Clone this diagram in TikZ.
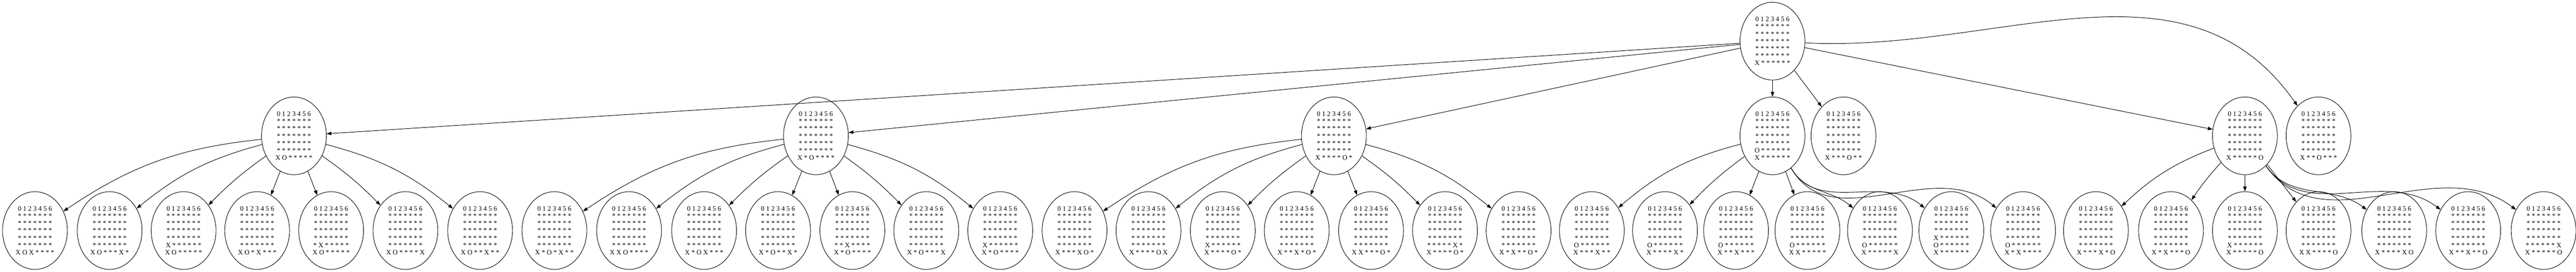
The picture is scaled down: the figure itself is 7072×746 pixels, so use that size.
\documentclass[tikz,border=0pt]{standalone}
\usepackage{fontspec}
\setmainfont{Liberation Serif}
\usetikzlibrary{arrows.meta,shapes.geometric}

% empty row and a board with its three lowest rows given
\newcommand{\erow}{* * * * * * *}
\newcommand{\cfboard}[3]{0 1 2 3 4 5 6\\\erow\\\erow\\\erow\\{}#1\\{}#2\\{}#3}

\tikzset{
    boardnode/.style={draw, ellipse, line width=1pt, minimum width=133.5pt,
        minimum height=160pt, inner sep=0pt, align=center,
        font=\fontsize{14}{15}\selectfont},
    link/.style={line width=1pt, -{Triangle[length=10pt,width=7pt]}}
}

\begin{document}
\begin{tikzpicture}[x=0.75pt, y=0.75pt]

    \useasboundingbox (0,0) rectangle (7072,746);

    %% Start position
    \node[boardnode] (root) at (4866,633) {\cfboard{\erow}{\erow}{X * * * * * *}};

    %% Replies of O
    \node[boardnode] (o1) at (807,373) {\cfboard{\erow}{\erow}{X O * * * * *}};
    \node[boardnode] (o2) at (2240,373) {\cfboard{\erow}{\erow}{X * O * * * *}};
    \node[boardnode] (o5) at (3662,373) {\cfboard{\erow}{\erow}{X * * * * O *}};
    \node[boardnode] (o0) at (4866,373) {\cfboard{\erow}{O * * * * * *}{X * * * * * *}};
    \node[boardnode] (o4) at (5061,373) {\cfboard{\erow}{\erow}{X * * * O * *}};
    \node[boardnode] (o6) at (6163,373) {\cfboard{\erow}{\erow}{X * * * * * O}};
    \node[boardnode] (o3) at (6365,373) {\cfboard{\erow}{\erow}{X * * O * * *}};

    %% Second moves of X
    % after O in column 1
    \node[boardnode] (o1x2) at (96,113) {\cfboard{\erow}{\erow}{X O X * * * *}};
    \node[boardnode] (o1x5) at (301,113) {\cfboard{\erow}{\erow}{X O * * * X *}};
    \node[boardnode] (o1x0) at (504,113) {\cfboard{\erow}{X * * * * * *}{X O * * * * *}};
    \node[boardnode] (o1x3) at (706,113) {\cfboard{\erow}{\erow}{X O * X * * *}};
    \node[boardnode] (o1x1) at (909,113) {\cfboard{\erow}{* X * * * * *}{X O * * * * *}};
    \node[boardnode] (o1x6) at (1113,113) {\cfboard{\erow}{\erow}{X O * * * * X}};
    \node[boardnode] (o1x4) at (1318,113) {\cfboard{\erow}{\erow}{X O * * X * *}};

    % after O in column 2
    \node[boardnode] (o2x4) at (1522,113) {\cfboard{\erow}{\erow}{X * O * X * *}};
    \node[boardnode] (o2x1) at (1727,113) {\cfboard{\erow}{\erow}{X X O * * * *}};
    \node[boardnode] (o2x3) at (1933,113) {\cfboard{\erow}{\erow}{X * O X * * *}};
    \node[boardnode] (o2x5) at (2136,113) {\cfboard{\erow}{\erow}{X * O * * X *}};
    \node[boardnode] (o2x2) at (2340,113) {\cfboard{\erow}{* * X * * * *}{X * O * * * *}};
    \node[boardnode] (o2x6) at (2543,113) {\cfboard{\erow}{\erow}{X * O * * * X}};
    \node[boardnode] (o2x0) at (2746,113) {\cfboard{\erow}{X * * * * * *}{X * O * * * *}};

    % after O in column 5
    \node[boardnode] (o5x4) at (2950,113) {\cfboard{\erow}{\erow}{X * * * X O *}};
    \node[boardnode] (o5x6) at (3153,113) {\cfboard{\erow}{\erow}{X * * * * O X}};
    \node[boardnode] (o5x0) at (3357,113) {\cfboard{\erow}{X * * * * * *}{X * * * * O *}};
    \node[boardnode] (o5x3) at (3560,113) {\cfboard{\erow}{\erow}{X * * X * O *}};
    \node[boardnode] (o5x1) at (3764,113) {\cfboard{\erow}{\erow}{X X * * * O *}};
    \node[boardnode] (o5x5) at (3967,113) {\cfboard{\erow}{* * * * * X *}{X * * * * O *}};
    \node[boardnode] (o5x2) at (4169,113) {\cfboard{\erow}{\erow}{X * X * * O *}};

    % after O in column 0
    \node[boardnode] (o0x4) at (4370,113) {\cfboard{\erow}{O * * * * * *}{X * * * X * *}};
    \node[boardnode] (o0x5) at (4571,113) {\cfboard{\erow}{O * * * * * *}{X * * * * X *}};
    \node[boardnode] (o0x3) at (4766,113) {\cfboard{\erow}{O * * * * * *}{X * * X * * *}};
    \node[boardnode] (o0x1) at (4962,113) {\cfboard{\erow}{O * * * * * *}{X X * * * * *}};
    \node[boardnode] (o0x6) at (5161,113) {\cfboard{\erow}{O * * * * * *}{X * * * * * X}};
    \node[boardnode] (o0x0) at (5357,113) {\cfboard{X * * * * * *}{O * * * * * *}{X * * * * * *}};
    \node[boardnode] (o0x2) at (5554,113) {\cfboard{\erow}{O * * * * * *}{X * X * * * *}};

    % after O in column 6
    \node[boardnode] (o6x4) at (5754,113) {\cfboard{\erow}{\erow}{X * * * X * O}};
    \node[boardnode] (o6x2) at (5960,113) {\cfboard{\erow}{\erow}{X * X * * * O}};
    \node[boardnode] (o6x0) at (6163,113) {\cfboard{\erow}{X * * * * * *}{X * * * * * O}};
    \node[boardnode] (o6x1) at (6365,113) {\cfboard{\erow}{\erow}{X X * * * * O}};
    \node[boardnode] (o6x5) at (6573,113) {\cfboard{\erow}{\erow}{X * * * * X O}};
    \node[boardnode] (o6x3) at (6776,113) {\cfboard{\erow}{\erow}{X * * X * * O}};
    \node[boardnode] (o6x6) at (6983,113) {\cfboard{\erow}{* * * * * * X}{X * * * * * O}};

    %% Edges from the start
    \foreach \c in {o1,o2,o5,o0,o4,o6}
        \draw[link] (root) -- (\c);
    \draw[link] (root) to[out=-3,in=125] (o3);

    %% Edges to the leaves
    % column 1
    \foreach \c/\b in {o1x2/14, o1x5/12, o1x0/5, o1x3/0}
        \draw[link] (o1) to[bend right=\b] (\c);
    \foreach \c/\b in {o1x1/0, o1x6/5, o1x4/12}
        \draw[link] (o1) to[bend left=\b] (\c);

    % column 2
    \foreach \c/\b in {o2x4/14, o2x1/12, o2x3/5, o2x5/0}
        \draw[link] (o2) to[bend right=\b] (\c);
    \foreach \c/\b in {o2x2/0, o2x6/5, o2x0/12}
        \draw[link] (o2) to[bend left=\b] (\c);

    % column 5
    \foreach \c/\b in {o5x4/14, o5x6/12, o5x0/5, o5x3/0}
        \draw[link] (o5) to[bend right=\b] (\c);
    \foreach \c/\b in {o5x1/0, o5x5/5, o5x2/12}
        \draw[link] (o5) to[bend left=\b] (\c);

    % column 0
    \draw[link] (o0) to[bend right=13] (o0x4);
    \draw[link] (o0) to[bend right=5] (o0x5);
    \draw[link] (o0) -- (o0x3);
    \draw[link] (o0) -- (o0x1);
    \foreach \c in {o0x6,o0x0,o0x2}
        \draw[link] (o0) to[out=-60,in=140] (\c);

    % column 6
    \draw[link] (o6) to[bend right=11] (o6x4);
    \draw[link] (o6) to[bend right=4] (o6x2);
    \draw[link] (o6) -- (o6x0);
    \draw[link] (o6) -- (o6x1);
    \foreach \c in {o6x5,o6x3,o6x6}
        \draw[link] (o6) to[out=-55,in=143] (\c);

\end{tikzpicture}
\end{document}
